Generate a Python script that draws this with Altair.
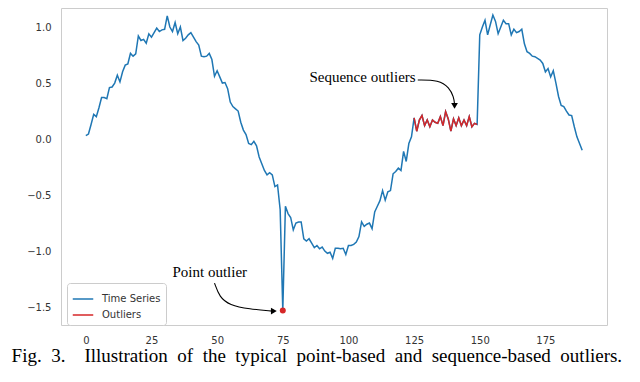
import altair as alt
import pandas as pd

# ---- data ----
ts_values = [
    0.03, 0.045, 0.13, 0.22, 0.20, 0.28, 0.37, 0.37, 0.36, 0.46,
    0.465, 0.50, 0.57, 0.51, 0.60, 0.66, 0.67, 0.765, 0.74, 0.76,
    0.92, 0.88, 0.89, 0.855, 0.94, 0.91, 0.95, 0.99, 0.96, 0.975,
    0.98, 1.10, 1.00, 0.96, 1.04, 0.94, 1.00, 0.88, 0.90, 0.93,
    0.95, 0.91, 0.87, 0.84, 0.74, 0.735, 0.74, 0.765, 0.71, 0.56,
    0.61, 0.555, 0.50, 0.505, 0.45, 0.33, 0.29, 0.27, 0.25, 0.15,
    0.08, 0.04, -0.04, -0.05, -0.02, -0.06, -0.16, -0.22, -0.28, -0.32,
    -0.30, -0.32, -0.425, -0.41, -0.63, -1.53, -0.60, -0.665, -0.70, -0.81,
    -0.75, -0.74, -0.74, -0.89, -0.91, -0.89, -0.93, -0.97, -0.95, -0.98,
    -0.965, -1.00, -1.02, -1.01, -1.065, -0.975, -0.975, -0.98, -0.975, -1.03,
    -0.95, -0.95, -0.94, -0.92, -0.87, -0.74, -0.78, -0.76, -0.75, -0.80,
    -0.65, -0.60, -0.55, -0.46, -0.545, -0.47, -0.46, -0.31, -0.29, -0.26,
    -0.28, -0.11, -0.20, -0.04, 0.02, 0.19, 0.07, 0.17, 0.21, 0.12,
    0.17, 0.11, 0.17, 0.15, 0.14, 0.20, 0.12, 0.245, 0.18, 0.07,
    0.18, 0.12, 0.19, 0.12, 0.17, 0.12, 0.20, 0.11, 0.14, 0.13,
    0.93, 1.00, 1.06, 0.93, 1.02, 1.107, 1.05, 0.94, 1.00, 1.06,
    1.03, 1.03, 0.93, 0.98, 0.95, 0.96, 0.98, 0.85, 0.78, 0.765,
    0.74, 0.735, 0.72, 0.705, 0.675, 0.60, 0.63, 0.555, 0.61, 0.50,
    0.38, 0.30, 0.29, 0.25, 0.215, 0.21, 0.11, 0.02, -0.04, -0.10,
]
seq_start, seq_end = 125, 149       # sequence outliers (inclusive)
point_outlier_x = 75

series_names = ["Time Series", "Outliers"]
series_colors = ["#1f77b4", "#d62728"]

x_ticks = [0, 25, 50, 75, 100, 125, 150, 175]
y_ticks = [-1.5, -1.0, -0.5, 0.0, 0.5, 1.0]

# justified caption: widened word spacing
caption_words = ["Fig.", "3.\u2002\u2002Illustration", "of", "the", "typical", "point-based",
                 "and", "sequence-based", "outliers."]
caption = "\u2002".join(caption_words)

# annotation paths (data coordinates)
pt_label = {"x": 33.0, "y": -1.232, "text": "Point outlier"}
pt_arrow_x = [49.0, 50.9, 54.7, 62.3, 71.0]
pt_arrow_y = [-1.286, -1.411, -1.482, -1.518, -1.536]
pt_head = {"x": 71.6, "y": -1.536}

seq_label = {"x": 125.6, "y": 0.509, "text": "Sequence outliers"}
seq_arrow_x = [126.4, 134.4, 138.4, 140.1, 140.4]
seq_arrow_y = [0.527, 0.527, 0.46, 0.375, 0.31]
seq_head = {"x": 140.4, "y": 0.297}

# ---- tables ----
df_ts = pd.DataFrame({"x": list(range(len(ts_values))), "y": ts_values, "series": "Time Series"})
df_out = pd.DataFrame({
    "x": list(range(seq_start, seq_end + 1)),
    "y": ts_values[seq_start:seq_end + 1],
    "series": "Outliers",
})
df_pt = pd.DataFrame({"x": [point_outlier_x], "y": [ts_values[point_outlier_x]]})
df_arrows = pd.DataFrame({
    "x": pt_arrow_x + seq_arrow_x,
    "y": pt_arrow_y + seq_arrow_y,
    "k": list(range(len(pt_arrow_x))) + list(range(len(seq_arrow_x))),
    "arrow": ["pt"] * len(pt_arrow_x) + ["seq"] * len(seq_arrow_x),
})

x_scale = alt.Scale(domain=[-9.45, 198.45], nice=False, zero=False)
y_scale = alt.Scale(domain=[-1.66, 1.17], nice=False, zero=False)

x_enc = alt.X("x:Q", scale=x_scale, title=None,
              axis=alt.Axis(values=x_ticks, grid=False, ticks=False, domain=False,
                            labelPadding=10, labelFont="DejaVu Sans", labelFontSize=10,
                            labelColor="#333333", labelFlush=False))
y_enc = alt.Y("y:Q", scale=y_scale, title=None,
              axis=alt.Axis(values=y_ticks, grid=False, ticks=False, domain=False,
                            labelPadding=10, labelFont="DejaVu Sans", labelFontSize=10,
                            labelColor="#333333", labelFlush=False,
                            labelExpr="replace(format(datum.value, '.1f'), '-', '\u2212')"))

color_enc = alt.Color(
    "series:N",
    scale=alt.Scale(domain=series_names, range=series_colors),
    legend=alt.Legend(
        title=None, orient="none", legendX=6, legendY=275,
        symbolType="stroke", symbolStrokeWidth=1.5, symbolSize=420,
        labelFont="DejaVu Sans", labelFontSize=10, labelColor="#333333",
        fillColor="white", strokeColor="#cccccc", cornerRadius=3, padding=5,
        rowPadding=0, labelOffset=8,
    ),
)

blue = alt.Chart(df_ts).mark_line(strokeWidth=1.5).encode(x=x_enc, y=y_enc, color=color_enc)
red = alt.Chart(df_out).mark_line(strokeWidth=1.5).encode(x=x_enc, y=y_enc, color=color_enc)
dot = alt.Chart(df_pt).mark_circle(size=36, opacity=1, color="#d62728").encode(x=x_enc, y=y_enc)

arrows = alt.Chart(df_arrows).mark_line(interpolate="basis", color="black", strokeWidth=1.1).encode(
    x=x_enc, y=y_enc, detail="arrow:N", order="k:Q")
head_pt = alt.Chart(pd.DataFrame([pt_head])).mark_point(
    shape="triangle-right", filled=True, color="black", size=45, opacity=1).encode(x=x_enc, y=y_enc)
head_seq = alt.Chart(pd.DataFrame([seq_head])).mark_point(
    shape="triangle-down", filled=True, color="black", size=45, opacity=1).encode(x=x_enc, y=y_enc)

txt_pt = alt.Chart(pd.DataFrame([pt_label])).mark_text(
    align="left", baseline="alphabetic", font="Liberation Serif", fontSize=15, color="black"
).encode(x=x_enc, y=y_enc, text="text:N")
txt_seq = alt.Chart(pd.DataFrame([seq_label])).mark_text(
    align="right", baseline="alphabetic", font="Liberation Serif", fontSize=15, color="black"
).encode(x=x_enc, y=y_enc, text="text:N")

chart = alt.layer(blue, red, dot, arrows, head_pt, head_seq, txt_pt, txt_seq).properties(
    width=546, height=317,
    autosize=alt.AutoSizeParams(type="none"),
    padding={"left": 53, "top": 0, "right": 25, "bottom": 50},
    title=alt.TitleParams(text=caption, orient="bottom", anchor="middle", frame="bounds",
                          font="Liberation Serif", fontSize=19, fontWeight="normal",
                          color="black", offset=2),
).configure_view(stroke="#cccccc", strokeWidth=1)

chart.save("out.html", embed_options={"renderer": "svg", "actions": False})
